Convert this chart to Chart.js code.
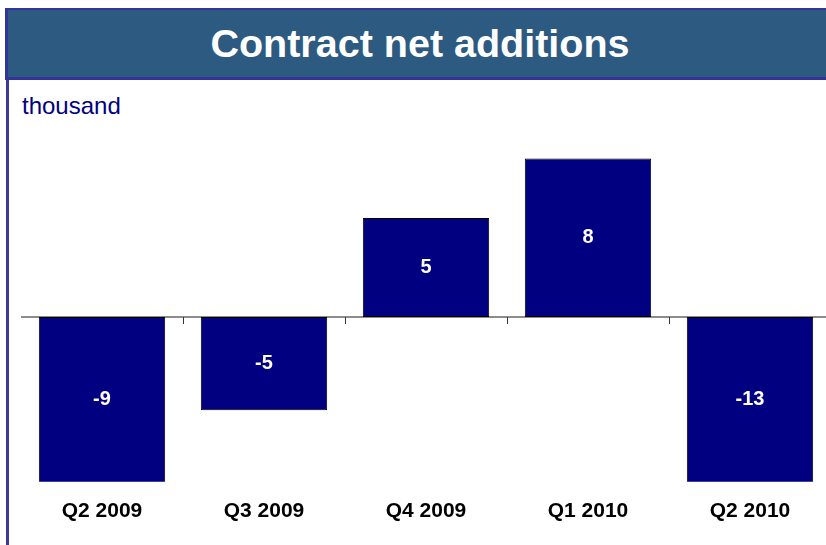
<!DOCTYPE html>
<html>
<head>
<meta charset="utf-8">
<title>Contract net additions</title>
<script src="https://cdn.jsdelivr.net/npm/chart.js@4/dist/chart.umd.min.js"></script>
<style>
  html, body { margin: 0; padding: 0; width: 826px; height: 545px; overflow: hidden; background: #fff; }
  body { position: relative; font-family: 'Liberation Sans', Arial, sans-serif; }
  .rule { position: absolute; left: 6px; top: 8px; width: 3px; height: 545px; background: #3a3a9c; }
  .banner { position: absolute; left: 5px; top: 8px; width: 840px; height: 67px; background: #2d5a80;
            border-top: 2px solid #333399; border-bottom: 3px solid #333399; border-left: 3px solid #333399; }
  .banner h1 { margin: 0; position: absolute; left: -8px; width: 840px; text-align: center; color: #fff;
               font: bold 39.5px/67px 'Liberation Sans', Arial, sans-serif; }
  .unit { position: absolute; left: 22px; top: 94px; color: #000080; font: 24px/23px 'Liberation Sans', Arial, sans-serif; }
  #chart { position: absolute; left: 21px; top: 102px; }
</style>
</head>
<body>
<div class="rule"></div>
<div class="banner"><h1>Contract net additions</h1></div>
<div class="unit">thousand</div>
<canvas id="chart" width="810" height="443"></canvas>
<script>
const quarters = ['Q2 2009', 'Q3 2009', 'Q4 2009', 'Q1 2010', 'Q2 2010'];
const netAdditions = [-9, -4.7, 5, 8, -13];

// zero line with small tick marks between quarters
const zeroAxis = {
  id: 'zeroAxis',
  beforeDatasetsDraw(chart) {
    const { ctx, chartArea, scales: { x, y } } = chart;
    const y0 = y.getPixelForValue(0);
    ctx.save();
    ctx.strokeStyle = '#8c8c8c';
    ctx.lineWidth = 2;
    ctx.beginPath();
    ctx.moveTo(chartArea.left, y0);
    ctx.lineTo(chartArea.right, y0);
    ctx.stroke();
    ctx.strokeStyle = '#333';
    ctx.lineWidth = 1;
    ctx.beginPath();
    for (let i = 1; i < quarters.length; i++) {
      const px = Math.round((x.getPixelForValue(i - 1) + x.getPixelForValue(i)) / 2) + 0.5;
      ctx.moveTo(px, y0);
      ctx.lineTo(px, y0 + 7);
    }
    ctx.stroke();
    ctx.restore();
  }
};

// value printed in the middle of the visible part of each bar
const barValues = {
  id: 'barValues',
  afterDatasetsDraw(chart) {
    const { ctx, chartArea } = chart;
    ctx.save();
    ctx.fillStyle = '#fff';
    ctx.font = "bold 20px 'Liberation Sans', Arial, sans-serif";
    ctx.textAlign = 'center';
    ctx.textBaseline = 'middle';
    chart.getDatasetMeta(0).data.forEach((bar, i) => {
      const top = Math.max(Math.min(bar.y, bar.base), chartArea.top);
      const bottom = Math.min(Math.max(bar.y, bar.base), chartArea.bottom);
      ctx.fillText(String(Math.round(netAdditions[i])), bar.x, (top + bottom) / 2);
    });
    ctx.restore();
  }
};

new Chart(document.getElementById('chart'), {
  type: 'bar',
  data: {
    labels: quarters,
    datasets: [{
      data: netAdditions,
      backgroundColor: '#000080',
      borderColor: '#000',
      borderWidth: 1,
      borderSkipped: false,
      barPercentage: 0.78,
      categoryPercentage: 1,
    }],
  },
  options: {
    responsive: false,
    animation: false,
    layout: { padding: { top: 16, bottom: 4, left: 0, right: 0 } },
    plugins: { legend: { display: false }, tooltip: { enabled: false } },
    scales: {
      x: {
        grid: { display: false, drawTicks: false },
        border: { display: false },
        ticks: { color: '#000', padding: 17, font: { family: "'Liberation Sans', Arial, sans-serif", size: 21, weight: 'bold' } },
      },
      y: { display: false, min: -8.31, max: 10.04 },
    },
  },
  plugins: [zeroAxis, barValues],
});
</script>
</body>
</html>
